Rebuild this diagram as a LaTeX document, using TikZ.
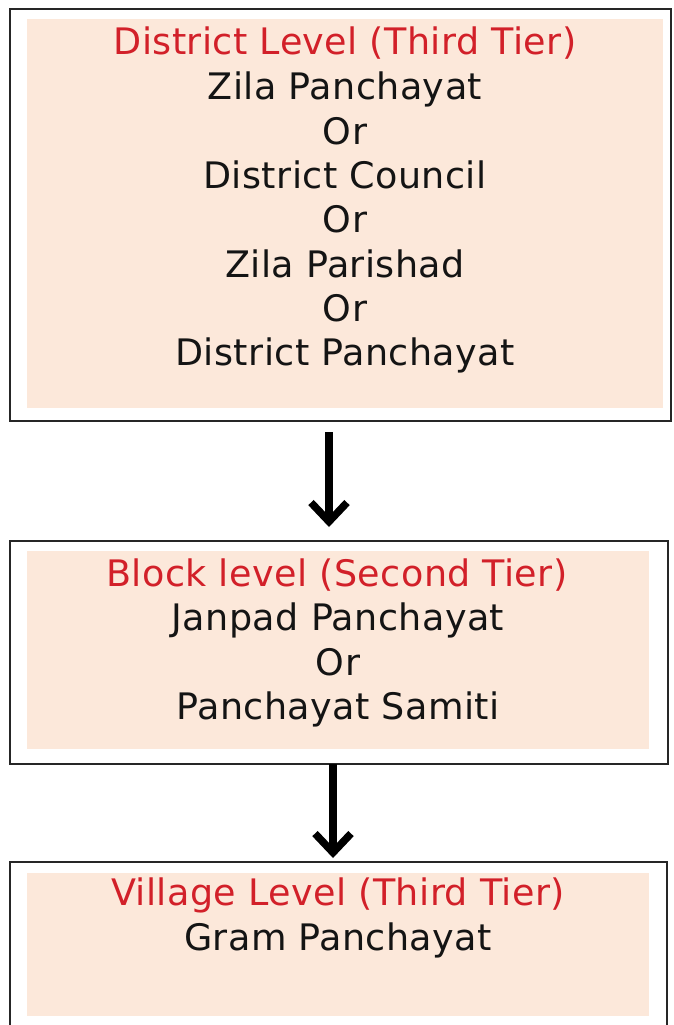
\documentclass[tikz,border=0pt]{standalone}
\usepackage{fontspec}
\setmainfont{DejaVu Sans}[LetterSpace=1.2]
\usetikzlibrary{arrows.meta}
\definecolor{peach}{HTML}{FCE8DA}
\definecolor{tierred}{HTML}{D22029}
\definecolor{ink}{HTML}{141414}
\tikzset{
  outerbox/.style={draw=black!85, line width=2.4pt, fill=white},
  fillbox/.style={fill=peach, draw=none},
  line/.style={anchor=base, inner sep=0pt, text=ink, font=\fontsize{36.5}{44}\selectfont},
  headline/.style={line, text=tierred},
  flowarrow/.style={line width=7.5pt, -{Straight Barb[length=19pt, width=36pt]}, draw=black}
}
\begin{document}
\begin{tikzpicture}[x=1pt, y=-1pt]
\useasboundingbox (0,0) rectangle (673,1025);
% boxes
\path[outerbox] (10,9) rectangle (671,421);
\path[fillbox] (27,19) rectangle (663,408);
\path[outerbox] (10,541) rectangle (668,764);
\path[fillbox] (27,551) rectangle (649,749);
\path[outerbox] (10,862) rectangle (667,1040);
\path[fillbox] (27,873) rectangle (649,1016);
% coordinates for box edges
\coordinate (b1s) at (329,432);
\coordinate (b2n) at (329,527);
\coordinate (b2s) at (333,764);
\coordinate (b3n) at (333,858);
% box 1 text
\node[headline] (t1) at (345,55) {District Level (Third Tier)};
\node[line] (t2) at (345,99.5) {Zila Panchayat};
\node[line] (t3) at (345,144) {Or};
\node[line] (t4) at (345,188.3) {District Council};
\node[line] (t5) at (345,232.7) {Or};
\node[line] (t6) at (345,277.5) {Zila Parishad};
\node[line] (t7) at (345,321.7) {Or};
\node[line] (t8) at (345,365.7) {District Panchayat};
% box 2 text
\node[headline] (s1) at (337,586) {Block level (Second Tier)};
\node[line] (s2) at (338,630.5) {Janpad Panchayat};
\node[line] (s3) at (338,675) {Or};
\node[line] (s4) at (338,719) {Panchayat Samiti};
% box 3 text
\node[headline] (v1) at (338,905) {Village Level (Third Tier)};
\node[line] (v2) at (338,950) {Gram Panchayat};
% arrows
\draw[flowarrow] (b1s) -- (b2n);
\draw[flowarrow] (b2s) -- (b3n);
\end{tikzpicture}
\end{document}
